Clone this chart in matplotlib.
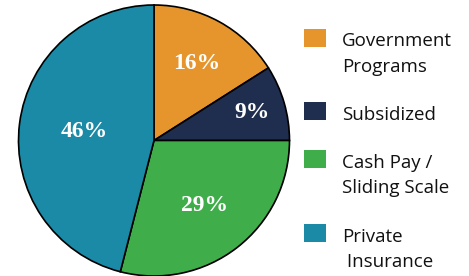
import numpy as np
import matplotlib
matplotlib.use("Agg")
import matplotlib.pyplot as plt
from matplotlib.patches import Rectangle

categories = ["Government\nPrograms", "Subsidized", "Cash Pay /\nSliding Scale", "Private\n Insurance"]
values = [16, 9, 29, 46]
colors = ["#E5952B", "#1F2D4E", "#3FAD4A", "#1A8AA6"]
label_radius = [0.65, 0.75, 0.61, 0.52]

W, H = 469, 276
fig = plt.figure(figsize=(W / 100, H / 100), dpi=100)
cx, cy, R = 154, 140.5, 135.5
ax = fig.add_axes([(cx - R) / W, (H - cy - R) / H, 2 * R / W, 2 * R / H])
wedges, _ = ax.pie(values, colors=colors, startangle=90, counterclock=False,
                   radius=1.0, wedgeprops=dict(edgecolor="black", linewidth=1.2))
ax.set_xlim(-1.0, 1.0)
ax.set_ylim(-1.0, 1.0)
ax.set_aspect("equal")
ax.axis("off")

for w, v, r in zip(wedges, values, label_radius):
    ang = np.deg2rad((w.theta1 + w.theta2) / 2)
    ax.text(r * np.cos(ang), r * np.sin(ang), f"{v}%", ha="center", va="center",
            color="white", fontsize=17, fontweight="bold", family="Liberation Serif")

# legend
sq_tops = [29, 102, 150, 224]
sw, sh = 22, 18
x0 = 304
tx = 342
for lab, c, t in zip(categories, colors, sq_tops):
    fig.patches.append(Rectangle((x0 / W, (H - t - sh) / H), sw / W, sh / H,
                                 transform=fig.transFigure, facecolor=c, edgecolor="none"))
    for i, line in enumerate(lab.split("\n")):
        fig.text(tx / W, (H - t - 17.5 - 25.5 * i) / H, line, ha="left", va="baseline",
                 fontsize=13.5, family="Open Sans", color="#111111")

fig.savefig("out.png", dpi=100)
